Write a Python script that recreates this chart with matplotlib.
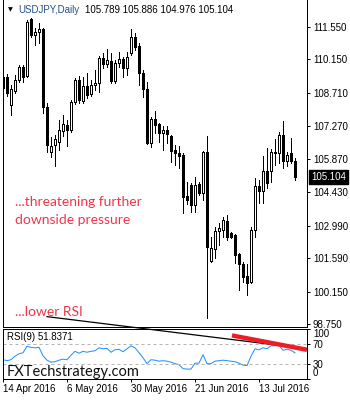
import numpy as np
import pandas as pd
import matplotlib
matplotlib.use("Agg")
import matplotlib.pyplot as plt
import matplotlib.transforms as mtransforms

# USDJPY daily bars, 14 Apr 2016 onwards
symbol = "USDJPY,Daily"
dates = pd.bdate_range("2016-04-14", periods=74)

opens = [109.39, 109.39, 108.19, 108.79, 109.27, 109.83, 109.44, 111.89, 111.21, 111.33,
         111.46, 108.10, 106.16, 106.46, 106.59, 107.07, 107.33, 107.11, 108.32, 109.27,
         108.36, 109.01, 108.66, 109.05, 109.14, 110.21, 109.96, 110.08, 109.22, 110.00,
         110.17, 109.78, 110.43, 111.12, 110.73, 109.57, 108.88, 106.55, 107.58, 107.37,
         106.98, 107.11, 106.85, 106.25, 106.12, 106.03, 104.27, 104.74, 103.88, 104.78,
         104.40, 106.16, 101.46, 101.98, 102.76, 102.80, 103.19, 102.67, 102.58, 101.77,
         101.34, 100.82, 100.56, 102.80, 104.70, 104.48, 105.34, 105.34, 106.12, 106.12,
         106.89, 105.77, 106.12, 105.789]
highs = [109.61, 109.52, 109.05, 109.48, 109.91, 109.91, 111.85, 111.94, 111.51, 111.72,
         111.51, 108.27, 106.81, 106.89, 107.54, 107.76, 107.54, 108.40, 109.35, 109.44,
         109.39, 109.57, 109.27, 109.70, 110.30, 110.43, 110.60, 110.43, 110.13, 110.47,
         110.26, 110.47, 111.46, 111.29, 110.86, 109.70, 109.18, 107.67, 107.93, 107.41,
         107.28, 107.28, 106.89, 106.46, 106.42, 106.12, 104.87, 104.83, 105.08, 104.87,
         106.21, 106.85, 102.50, 102.93, 103.10, 103.36, 103.45, 102.71, 102.63, 101.81,
         101.42, 101.34, 102.93, 105.04, 104.96, 105.99, 106.33, 106.29, 106.72, 107.02,
         107.50, 106.16, 106.77, 105.886]
lows = [108.71, 108.58, 107.76, 108.71, 109.18, 109.18, 109.39, 111.12, 110.77, 110.86,
        107.84, 106.16, 105.95, 105.56, 106.25, 106.85, 106.42, 107.02, 108.23, 108.27,
        108.27, 108.49, 108.58, 108.83, 108.75, 109.78, 109.83, 109.14, 109.14, 109.83,
        109.39, 109.48, 110.34, 110.56, 109.05, 108.53, 106.50, 106.38, 106.98, 106.59,
        106.25, 106.55, 105.73, 105.60, 105.47, 103.53, 103.92, 103.58, 103.58, 104.31,
        104.09, 99.01, 101.42, 101.59, 102.15, 102.50, 102.37, 102.46, 101.38, 100.21,
        100.56, 100.00, 100.52, 102.50, 103.96, 103.96, 104.61, 104.87, 105.60, 105.69,
        105.47, 105.56, 105.69, 104.976]
closes = [108.92, 108.71, 108.88, 109.27, 109.83, 109.39, 111.77, 111.21, 111.33, 111.46,
          108.10, 106.46, 106.42, 106.72, 107.11, 107.37, 107.11, 108.32, 109.27, 108.40,
          109.01, 108.62, 109.05, 109.14, 110.21, 109.96, 110.13, 109.22, 110.00, 110.17,
          109.78, 110.26, 111.12, 110.69, 109.57, 108.88, 106.55, 107.58, 107.33, 106.98,
          107.11, 106.94, 106.21, 106.12, 105.99, 104.22, 104.09, 103.88, 104.74, 104.40,
          106.16, 102.07, 102.02, 102.76, 102.89, 103.23, 102.50, 102.50, 101.72, 101.34,
          100.77, 100.52, 102.80, 104.70, 104.48, 105.34, 104.83, 106.16, 106.16, 106.89,
          105.77, 106.03, 105.77, 105.104]

rsi = [38, 36, 38, 45, 50, 52, 65, 63, 62, 63,
       46, 37, 33, 34, 37, 39, 38, 47, 55, 51,
       55, 53, 55, 56, 62, 60, 61, 53, 58, 59,
       54, 60, 66, 62, 52, 42, 30, 38, 37, 35,
       36, 35, 33, 30, 28, 20, 19, 19, 31, 31,
       48, 30, 30, 35, 36, 37, 36, 35, 34, 31,
       27, 26, 45, 60, 58, 62, 60, 66, 66, 67,
       57, 59, 57, 51.8371]

price_ticks = [111.55, 110.15, 108.71, 107.27, 105.87, 104.43, 102.99, 101.59, 100.15, 98.75]
rsi_ticks = [100, 70, 30, 0]
rsi_levels = [70, 30]

# trend lines drawn on the RSI pane (bar index, RSI value)
black_trend_x = [11, 76]
black_trend_y = [125, 60]
red_trend_x = [57.25, 76]
red_trend_y = [87, 58]

note_color = "#f0364a"
small = dict(family="Liberation Sans", fontsize=7)
note = dict(family="Lato", fontsize=10, color=note_color, va="baseline")

fig = plt.figure(figsize=(3.5, 4.0), dpi=100)
W, H = 350, 400
ax = fig.add_axes([2.5 / W, 1 - 326.5 / H, 304.5 / W, 326.5 / H])
ax2 = fig.add_axes([2.5 / W, 1 - 378.5 / H, 304.5 / W, 49.5 / H])

x = np.arange(len(closes))
o = np.array(opens)
c = np.array(closes)
up = c >= o

# candles
ax.vlines(x, lows, highs, color="black", lw=0.72, antialiased=False)
ax.bar(x, np.abs(c - o), bottom=np.minimum(o, c), width=0.55,
       color=np.where(up, "white", "black"), edgecolor="black", lw=0.72,
       antialiased=False, zorder=3)

ax.set_xlim(-0.125, 76)
ax.set_ylim(98.642, 112.714)
ax.yaxis.tick_right()
ax.set_yticks(price_ticks)
ax.set_yticklabels([f"{p:.3f}" for p in price_ticks], **small)
ax.set_xticks([])
ax.tick_params(axis="y", direction="out", length=2.2, width=0.72, pad=2)
ax.spines["top"].set_visible(False)
for s in ["left", "right", "bottom"]:
    ax.spines[s].set_linewidth(0.72)

# last price tag
tr = mtransforms.blended_transform_factory(ax.transAxes, ax.transData)
ax.text(1.014, closes[-1], f"{closes[-1]:.3f}", transform=tr, ha="left", va="center",
        color="white", bbox=dict(facecolor="black", edgecolor="black",
                                 boxstyle="square,pad=0.2"), **small)

# notes
ax.text(3, 103.84, "...threatening further", **note)
ax.text(3, 103.06, "downside pressure", **note)
ax.text(3, 99.09, "...lower RSI", **note)

# RSI pane
ax2.plot(x, rsi, color="#1e90ff", lw=0.72)
for lv in rsi_levels:
    ax2.axhline(lv, color="#b4b4b4", lw=0.72, ls=(0, (3, 3)))
ax2.plot(black_trend_x, black_trend_y, color="black", lw=0.9, clip_on=False, zorder=5)
ax2.plot(red_trend_x, red_trend_y, color="#ee1c25", lw=3.2, clip_on=False,
         solid_capstyle="butt", zorder=6)
ax2.set_xlim(-0.125, 76)
ax2.set_ylim(0, 100)
ax2.yaxis.tick_right()
ax2.set_yticks(rsi_ticks)
ax2.set_yticklabels([str(t) for t in rsi_ticks], **small)
labels = ax2.get_yticklabels()
labels[0].set_verticalalignment("top")
labels[-1].set_verticalalignment("bottom")
tick_idx = x[::16]
ax2.set_xticks(tick_idx)
ax2.set_xticklabels([f"{d.day} {d:%b %Y}" for d in dates[tick_idx]], ha="left", **small)
ax2.tick_params(axis="both", direction="out", length=2.2, width=0.72, pad=2)
for s in ax2.spines.values():
    s.set_linewidth(0.72)
ax2.text(0.015, 0.83, "RSI(9) 51.8371", transform=ax2.transAxes, va="center", **small)
ax2.text(0.015, 0.14, "FXTechstrategy.com", transform=ax2.transAxes, va="center",
         color="#111111", family="Lato", fontsize=10.5)

# header
fig.text(8 / W, 1 - 10 / H, "\u25bc", family="DejaVu Sans", fontsize=4.5, va="center")
fig.text(18 / W, 1 - 10 / H, symbol, color="#24508c", va="center", **small)
fig.text(85 / W, 1 - 10 / H,
         f"{opens[-1]:.3f} {highs[-1]:.3f} {lows[-1]:.3f} {closes[-1]:.3f}",
         va="center", **small)

fig.savefig("out.png", dpi=100)
